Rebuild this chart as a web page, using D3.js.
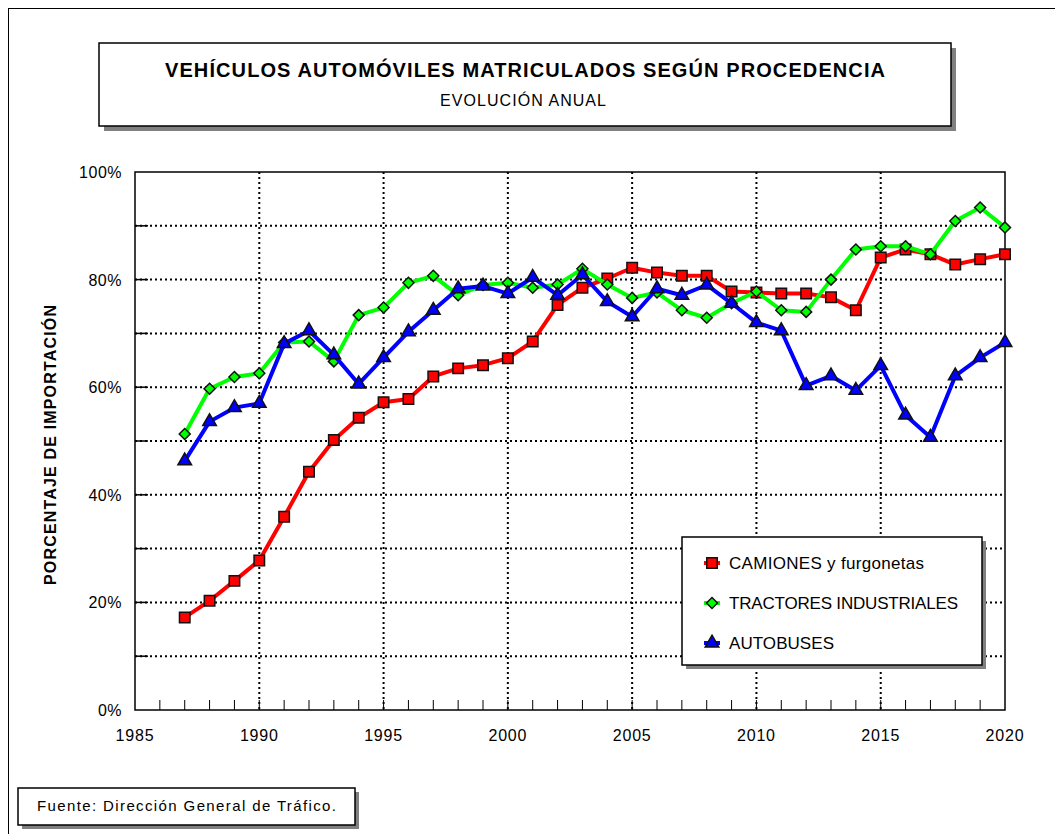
<!DOCTYPE html>
<html>
<head>
<meta charset="utf-8">
<script src="https://cdn.jsdelivr.net/npm/d3@7"></script>
<style>
  body { margin: 0; background: #fff; }
  text { font-family: "Liberation Sans", Arial, sans-serif; }
</style>
</head>
<body>
<div id="chart"></div>
<script>
const years = d3.range(1987, 2021);

const camiones = [17.2, 20.3, 24.0, 27.8, 35.9, 44.3, 50.2, 54.3, 57.2, 57.8,
  62.0, 63.5, 64.1, 65.4, 68.5, 75.3, 78.5, 80.2, 82.2, 81.3,
  80.7, 80.7, 77.8, 77.6, 77.4, 77.4, 76.7, 74.3, 84.1, 85.6,
  84.7, 82.8, 83.8, 84.7];

const tractores = [51.3, 59.7, 61.9, 62.6, 68.3, 68.5, 64.8, 73.4, 74.8, 79.4,
  80.7, 77.1, 79.0, 79.4, 78.5, 79.1, 82.0, 79.1, 76.6, 77.6,
  74.3, 72.9, 75.6, 77.8, 74.3, 74.0, 80.0, 85.6, 86.2, 86.2,
  84.7, 90.9, 93.4, 89.7];

const autobuses = [46.3, 53.6, 56.2, 57.0, 68.1, 70.5, 66.0, 60.6, 65.5, 70.3,
  74.3, 78.3, 78.8, 77.4, 80.4, 77.1, 80.9, 75.9, 73.1, 78.3,
  77.1, 79.0, 75.6, 72.0, 70.5, 60.3, 62.1, 59.4, 64.0, 54.8,
  50.7, 62.1, 65.5, 68.3];

const xTicks = [1985, 1990, 1995, 2000, 2005, 2010, 2015, 2020];
const yTicks = [0, 20, 40, 60, 80, 100];

const series = [
  { name: "CAMIONES y furgonetas", values: camiones, color: "#ff0000", symbol: d3.symbolSquare, size: 110, w: 195 },
  { name: "TRACTORES INDUSTRIALES", values: tractores, color: "#00ff00", symbol: "diamond", size: 60, w: 229 },
  { name: "AUTOBUSES", values: autobuses, color: "#0000ff", symbol: d3.symbolTriangle, size: 80, w: 105 }
];

const W = 1055, H = 834;
const plot = { left: 135, top: 172, right: 1005, bottom: 710 };

const svg = d3.select("#chart").append("svg")
  .attr("width", W).attr("height", H);

// outer frame
svg.append("rect")
  .attr("x", 8.5).attr("y", 8.5).attr("width", W + 20).attr("height", H + 20)
  .attr("fill", "none").attr("stroke", "#000").attr("stroke-width", 1);

// boxes with shadow
function shadowBox(x, y, w, h, off) {
  svg.append("rect").attr("x", x + off).attr("y", y + off).attr("width", w).attr("height", h)
    .attr("fill", "#808080");
  svg.append("rect").attr("x", x).attr("y", y).attr("width", w).attr("height", h)
    .attr("fill", "#fff").attr("stroke", "#000").attr("stroke-width", 1.5);
}

shadowBox(99, 43, 852, 83, 5);
svg.append("text").attr("x", 165).attr("y", 77)
  .attr("textLength", 720).attr("lengthAdjust", "spacing")
  .style("font-size", "20px").style("font-weight", "bold")
  .text("VEHÍCULOS AUTOMÓVILES MATRICULADOS SEGÚN PROCEDENCIA");
svg.append("text").attr("x", 440).attr("y", 106)
  .attr("textLength", 166).attr("lengthAdjust", "spacing")
  .style("font-size", "16px")
  .text("EVOLUCIÓN ANUAL");

const x = d3.scaleLinear().domain([1985, 2020]).range([plot.left, plot.right]);
const y = d3.scaleLinear().domain([0, 100]).range([plot.bottom, plot.top]);

const g = svg.append("g");

// grid
g.selectAll(".hgrid").data(d3.range(10, 100, 10)).join("line")
  .attr("x1", plot.left).attr("x2", plot.right)
  .attr("y1", d => y(d)).attr("y2", d => y(d))
  .attr("stroke", "#000").attr("stroke-width", 2).attr("stroke-dasharray", "2,3");
g.selectAll(".vgrid").data(xTicks.slice(1, -1)).join("line")
  .attr("x1", d => x(d)).attr("x2", d => x(d))
  .attr("y1", plot.top).attr("y2", plot.bottom)
  .attr("stroke", "#000").attr("stroke-width", 2).attr("stroke-dasharray", "2,3");

// minor ticks
g.selectAll(".xminor").data(d3.range(1986, 2020)).join("line")
  .attr("x1", d => x(d)).attr("x2", d => x(d))
  .attr("y1", plot.bottom).attr("y2", plot.bottom - 10)
  .attr("stroke", "#000").attr("stroke-width", 1);
g.selectAll(".yminor").data(d3.range(10, 100, 10)).join("line")
  .attr("x1", plot.left).attr("x2", plot.left + 13)
  .attr("y1", d => y(d)).attr("y2", d => y(d))
  .attr("stroke", "#000").attr("stroke-width", 1.5);

// frame
g.append("rect").attr("x", plot.left).attr("y", plot.top)
  .attr("width", plot.right - plot.left).attr("height", plot.bottom - plot.top)
  .attr("fill", "none").attr("stroke", "#000").attr("stroke-width", 1.5);

// axes labels
svg.selectAll(".ylab").data(yTicks).join("text")
  .attr("x", 122).attr("y", d => y(d) + 6).attr("text-anchor", "end")
  .style("font-size", "16px").style("letter-spacing", "0.5px").text(d => d + "%");
svg.selectAll(".xlab").data(xTicks).join("text")
  .attr("x", d => x(d)).attr("y", 741).attr("text-anchor", "middle")
  .style("font-size", "16px").style("letter-spacing", "0.8px").text(d => d);

svg.append("text")
  .attr("transform", `translate(56,445) rotate(-90)`)
  .attr("x", -140)
  .attr("textLength", 280).attr("lengthAdjust", "spacing")
  .style("font-size", "16px").style("font-weight", "bold")
  .text("PORCENTAJE DE IMPORTACIÓN");

function marker(s) {
  if (s.symbol === "diamond") {
    return "M0,-5.5L5.5,0L0,5.5L-5.5,0Z";
  }
  return d3.symbol().type(s.symbol).size(s.size)();
}

const line = d3.line().x((d, i) => x(years[i])).y(d => y(d));

series.forEach(s => {
  g.append("path").datum(s.values)
    .attr("fill", "none").attr("stroke", s.color).attr("stroke-width", 4)
    .attr("stroke-linejoin", "round")
    .attr("d", line);
  g.selectAll(null).data(s.values).join("path")
    .attr("transform", (d, i) => `translate(${x(years[i])},${y(d)})`)
    .attr("d", marker(s))
    .attr("fill", s.color).attr("stroke", "#111").attr("stroke-width", 1.5);
});

// legend
shadowBox(682, 537, 300, 128, 4);
series.forEach((s, i) => {
  const ly = 563 + i * 40;
  svg.append("line").attr("x1", 704).attr("x2", 720).attr("y1", ly).attr("y2", ly)
    .attr("stroke", s.color).attr("stroke-width", 4);
  svg.append("path").attr("transform", `translate(712,${ly})`).attr("d", marker(s))
    .attr("fill", s.color).attr("stroke", "#111").attr("stroke-width", 1.5);
  svg.append("text").attr("x", 729).attr("y", ly + 6)
    .attr("textLength", s.w).attr("lengthAdjust", "spacing")
    .style("font-size", "17px").text(s.name);
});

// source
shadowBox(18, 788, 337, 37, 4);
svg.append("text").attr("x", 37).attr("y", 811)
  .attr("textLength", 299).attr("lengthAdjust", "spacing")
  .style("font-size", "15px").text("Fuente: Dirección General de Tráfico.");
</script>
</body>
</html>
